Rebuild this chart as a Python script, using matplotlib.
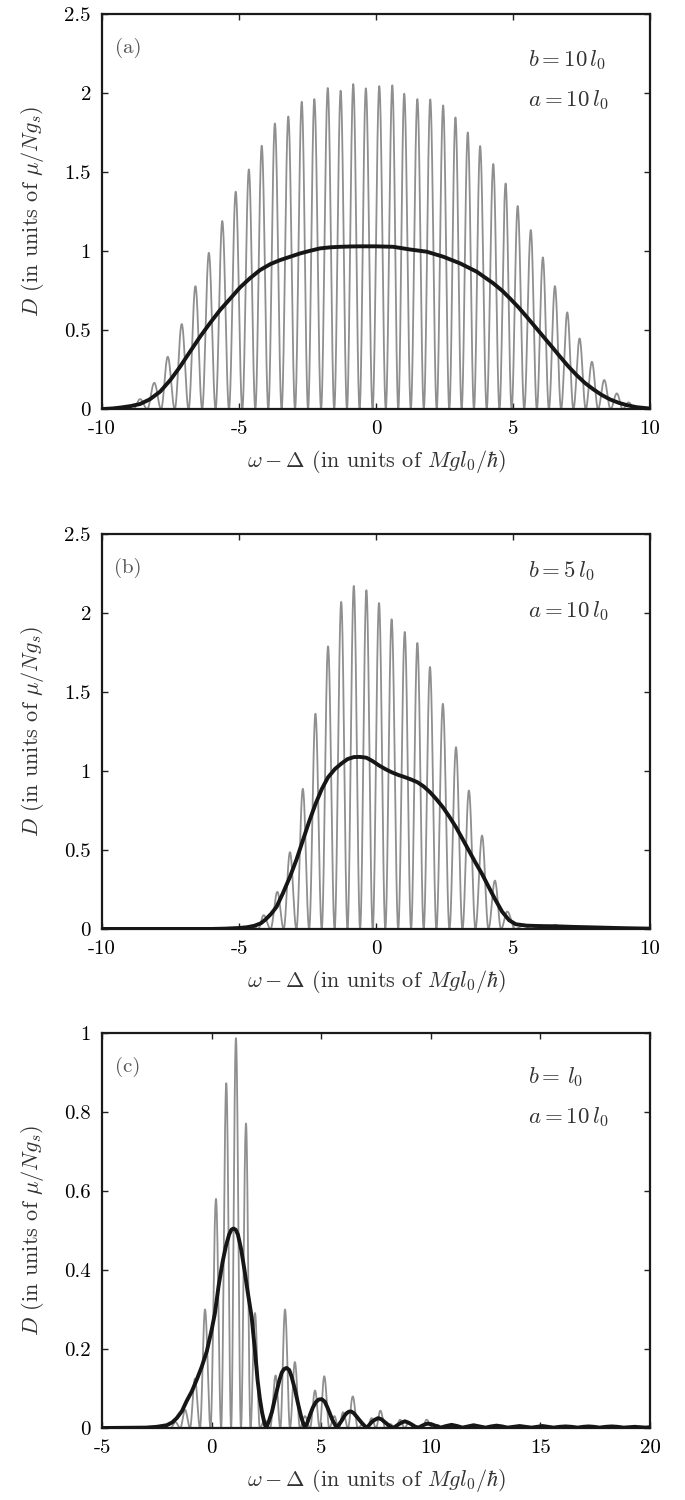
import numpy as np
import matplotlib
matplotlib.use('Agg')
import matplotlib.pyplot as plt

plt.rcParams['font.family'] = 'cmr10'
plt.rcParams['mathtext.fontset'] = 'cm'
plt.rcParams['axes.unicode_minus'] = False

# ---- panel (a): b = 10 l0, a = 10 l0 ----
a_peak_x = [-9.10, -8.61, -8.09, -7.60, -7.09, -6.59, -6.10, -5.61, -5.12, -4.64,
            -4.17, -3.69, -3.20, -2.71, -2.25, -1.76, -1.29, -0.83, -0.37, 0.12,
            0.595, 1.03, 1.51, 1.98, 2.45, 2.90, 3.35, 3.80, 4.28, 4.73,
            5.17, 5.65, 6.09, 6.53, 6.98, 7.43, 7.88, 8.33, 8.79, 9.22]
a_peak_y = [0.02, 0.063, 0.166, 0.331, 0.538, 0.778, 0.989, 1.19, 1.376, 1.517,
            1.667, 1.808, 1.852, 1.945, 1.962, 2.032, 2.015, 2.057, 2.03, 2.044,
            2.049, 1.996, 1.962, 1.96, 1.922, 1.846, 1.751, 1.665, 1.551, 1.428,
            1.285, 1.133, 0.96, 0.778, 0.612, 0.447, 0.299, 0.184, 0.099, 0.042]
a_avg_x = [-10, -9.6, -9.3, -8.95, -8.61, -8.25, -7.88, -7.5, -7.15, -6.8, -6.42,
           -6.05, -5.69, -5.3, -4.96, -4.6, -4.23, -3.85, -3.5, -3.1, -2.77, -2.4,
           -2.04, -1.65, -1.31, -0.95, -0.58, 0.0, 0.63, 1.24, 1.85, 2.46, 3.07,
           3.68, 4.28, 4.6, 4.89, 5.2, 5.50, 5.8, 6.11, 6.42, 6.72, 7.02, 7.32,
           7.62, 7.93, 8.23, 8.54, 8.85, 9.15, 9.5, 10]
a_avg_y = [0.0, 0.004, 0.01, 0.019, 0.032, 0.062, 0.11, 0.185, 0.268, 0.36, 0.458,
           0.546, 0.627, 0.703, 0.77, 0.828, 0.88, 0.918, 0.943, 0.966, 0.985, 1.002,
           1.017, 1.024, 1.027, 1.029, 1.03, 1.03, 1.027, 1.01, 0.996, 0.964, 0.922,
           0.869, 0.796, 0.75, 0.70, 0.644, 0.584, 0.522, 0.458, 0.394, 0.331, 0.27, 0.215,
           0.166, 0.125, 0.09, 0.061, 0.04, 0.025, 0.012, 0.003]

# ---- panel (b): b = 5 l0, a = 10 l0 ----
b_peak_x = [-4.5, -4.10, -3.60, -3.14, -2.67, -2.21, -1.75, -1.27, -0.81, -0.35,
            0.11, 0.57, 1.05, 1.51, 1.97, 2.44, 2.92, 3.39, 3.87, 4.34,
            4.79, 5.37, 6.0, 6.55]
b_peak_y = [0.02, 0.087, 0.235, 0.486, 0.887, 1.362, 1.789, 2.070, 2.171, 2.144,
            2.063, 1.960, 1.880, 1.810, 1.658, 1.425, 1.151, 0.876, 0.591, 0.306,
            0.11, 0.02, 0.025, 0.025]
b_avg_x = [-10, -6, -5.5, -5.0, -4.7, -4.44, -4.2, -4.03, -3.83, -3.63, -3.4, -3.14,
           -2.9, -2.67, -2.44, -2.21, -1.98, -1.75, -1.5, -1.27, -1.04, -0.81, -0.58,
           -0.35, -0.12, 0.11, 0.34, 0.57, 0.81, 1.05, 1.28, 1.51, 1.74, 1.97, 2.2,
           2.44, 2.68, 2.92, 3.15, 3.39, 3.63, 3.87, 4.1, 4.34, 4.6, 4.86, 5.1,
           5.5, 6.0, 6.53, 7.2, 7.9, 9.0, 10]
b_avg_y = [0.0, 0.0, 0.002, 0.006, 0.011, 0.02, 0.036, 0.06, 0.095, 0.14, 0.225, 0.33,
           0.44, 0.56, 0.68, 0.79, 0.885, 0.96, 1.012, 1.046, 1.075, 1.088, 1.089,
           1.084, 1.062, 1.035, 1.012, 0.992, 0.975, 0.961, 0.946, 0.929, 0.902, 0.866, 0.822,
           0.771, 0.71, 0.644, 0.572, 0.496, 0.42, 0.348, 0.27, 0.19, 0.11, 0.055, 0.03,
           0.021, 0.018, 0.017, 0.013, 0.01, 0.005, 0.002]

# ---- panel (c): b = l0, a = 10 l0 ----
c_peak_x = [-1.65, -1.21, -0.76, -0.30, 0.20, 0.67, 1.11, 1.57, 1.98, 2.42,
            2.92, 3.35, 3.80, 4.26, 4.72, 5.14, 5.60, 6.00, 6.44, 6.90,
            7.30, 7.70, 8.15, 8.60, 9.00, 9.40, 9.81, 10.3]
c_peak_y = [0.015, 0.046, 0.125, 0.30, 0.58, 0.873, 0.987, 0.771, 0.291, 0.02,
            0.133, 0.30, 0.167, 0.03, 0.095, 0.131, 0.03, 0.04, 0.08, 0.01,
            0.025, 0.044, 0.01, 0.021, 0.015, 0.005, 0.021, 0.008]
c_avg_x = [-5, -3, -2.5, -2.05, -1.8, -1.59, -1.35, -1.14, -0.9, -0.68, -0.45, -0.22,
           0.0, 0.15, 0.32, 0.5, 0.65, 0.8, 0.9, 1.0, 1.1, 1.2, 1.35, 1.5, 1.66,
           1.83, 1.97, 2.1, 2.2, 2.3, 2.4, 2.48, 2.6, 2.75, 2.88, 3.0, 3.1, 3.2,
           3.3, 3.42, 3.54, 3.65, 3.8, 3.95, 4.1, 4.26, 4.38, 4.5, 4.62, 4.75, 4.88,
           5.02, 5.16, 5.3, 5.5, 5.71, 5.83, 5.95, 6.05, 6.15, 6.25, 6.36, 6.48,
           6.6, 6.85, 7.07, 7.18, 7.3, 7.45, 7.6, 7.75, 7.9, 8.1, 8.29, 8.42, 8.55,
           8.68, 8.82, 8.96, 9.1, 9.27, 9.43, 9.54, 9.65, 9.77, 9.89, 10.05, 10.2,
           10.45, 10.7, 10.95, 11.2, 11.45, 11.7, 11.95, 12.22, 12.5, 12.75, 13.0,
           13.25, 13.5, 13.78, 14.05, 14.32, 14.6, 14.85, 15.1, 15.35, 15.6, 15.88,
           16.15, 16.42, 16.7, 16.95, 17.2, 17.45, 17.7, 17.98, 18.25, 18.52, 18.8,
           19.05, 19.3, 19.55, 19.8, 20]
c_avg_y = [0.0, 0.001, 0.003, 0.007, 0.014, 0.025, 0.043, 0.068, 0.093, 0.122, 0.155, 0.194,
           0.248, 0.29, 0.36, 0.42, 0.46, 0.49, 0.502, 0.505, 0.502, 0.49, 0.452, 0.40, 0.34,
           0.28, 0.2, 0.12, 0.075, 0.04, 0.015, 0.0, 0.015, 0.04, 0.072, 0.10, 0.122, 0.14,
           0.149, 0.152, 0.147, 0.13, 0.098, 0.06, 0.025, 0.0, 0.015, 0.035, 0.052, 0.065, 0.072,
           0.073, 0.067, 0.05, 0.022, 0.0, 0.01, 0.02, 0.03, 0.037, 0.041, 0.042, 0.038,
           0.03, 0.013, 0.0, 0.007, 0.015, 0.021, 0.025, 0.022, 0.015, 0.006, 0.0, 0.005, 0.01,
           0.014, 0.017, 0.014, 0.01, 0.004, 0.0, 0.004, 0.007, 0.01, 0.011, 0.009, 0.006,
           0.001, 0.005, 0.008, 0.005, 0.001, 0.004, 0.007, 0.004, 0.001, 0.004, 0.006,
           0.004, 0.001, 0.003, 0.005, 0.003, 0.001, 0.003, 0.005, 0.003, 0.001, 0.003,
           0.004, 0.003, 0.001, 0.003, 0.004, 0.003, 0.001, 0.003, 0.004, 0.003, 0.001,
           0.002, 0.003, 0.002, 0.001, 0.002]

panels = [
    dict(tag='(a)', b=r'$b = 10\,l_0$', px=a_peak_x, py=a_peak_y, ax_=a_avg_x, ay_=a_avg_y,
         xlim=(-10, 10), xticks=[-10, -5, 0, 5, 10], ylim=(0, 2.5),
         yticks=[0, 0.5, 1, 1.5, 2, 2.5], ylabels=['0', '0.5', '1', '1.5', '2', '2.5'],
         bottom=0.7273, ty=(0.884, 0.782)),
    dict(tag='(b)', b=r'$b = 5\,l_0$', px=b_peak_x, py=b_peak_y, ax_=b_avg_x, ay_=b_avg_y,
         xlim=(-10, 10), xticks=[-10, -5, 0, 5, 10], ylim=(0, 2.5),
         yticks=[0, 0.5, 1, 1.5, 2, 2.5], ylabels=['0', '0.5', '1', '1.5', '2', '2.5'],
         bottom=0.3807, ty=(0.906, 0.805)),
    dict(tag='(c)', b=r'$b = \,l_0$', px=c_peak_x, py=c_peak_y, ax_=c_avg_x, ay_=c_avg_y,
         xlim=(-5, 20), xticks=[-5, 0, 5, 10, 15, 20], ylim=(0, 1),
         yticks=[0, 0.2, 0.4, 0.6, 0.8, 1], ylabels=['0', '0.2', '0.4', '0.6', '0.8', '1'],
         bottom=0.048, ty=(0.889, 0.787)),
]


def fringe_curve(grid, centers, heights):
    # each read peak drawn as a lobe reaching zero halfway to its neighbours
    c = np.asarray(centers, float)
    h = np.asarray(heights, float)
    mids = (c[1:] + c[:-1]) / 2
    lo = np.concatenate([[c[0] - (mids[0] - c[0])], mids])
    hi = np.concatenate([mids, [c[-1] + (c[-1] - mids[-1])]])
    y = np.zeros_like(grid)
    for ci, hh, l, r in zip(c, h, lo, hi):
        m = (grid >= l) & (grid <= r)
        half = np.where(grid[m] < ci, ci - l, r - ci)
        y[m] = np.maximum(y[m], hh * np.cos(0.5 * np.pi * (grid[m] - ci) / half) ** 2)
    return y


fig = plt.figure(figsize=(6.85, 15), dpi=100)

for p in panels:
    ax = fig.add_axes([0.1489, p['bottom'], 0.8, 0.2633])
    grid = np.linspace(p['xlim'][0], p['xlim'][1], 6000)
    ax.plot(grid, fringe_curve(grid, p['px'], p['py']), color='#8f8f8f', lw=1.3, zorder=2)
    ax.plot(p['ax_'], p['ay_'], color='#161616', lw=2.8, zorder=3,
            solid_joinstyle='round', solid_capstyle='round')

    ax.set_xlim(*p['xlim'])
    ax.set_ylim(*p['ylim'])
    ax.set_xticks(p['xticks'])
    ax.set_xticklabels([str(t) for t in p['xticks']])
    ax.set_yticks(p['yticks'])
    ax.set_yticklabels(p['ylabels'])
    ax.tick_params(direction='in', top=True, right=True, length=4.5, width=1.0,
                   labelsize=15, pad=8, color='#222222')
    for s in ax.spines.values():
        s.set_linewidth(1.6)
        s.set_color('#1a1a1a')

    ax.set_xlabel(r'$\omega - \Delta$ (in units of $Mgl_0/\hbar$)', fontsize=16, labelpad=7,
                  color='#333333')
    ax.set_ylabel(r'$D$ (in units of $\mu/Ng_s$)', fontsize=16, labelpad=13, color='#333333')

    ax.text(0.047, 0.915, p['tag'], transform=ax.transAxes, fontsize=15,
            ha='center', va='center', color='#555555')
    ax.text(0.777, p['ty'][0], p['b'], transform=ax.transAxes, fontsize=16.5,
            ha='left', va='center', color='#333333')
    ax.text(0.777, p['ty'][1], r'$a = 10\,l_0$', transform=ax.transAxes, fontsize=16.5,
            ha='left', va='center', color='#333333')

fig.savefig('out.png', dpi=100)
